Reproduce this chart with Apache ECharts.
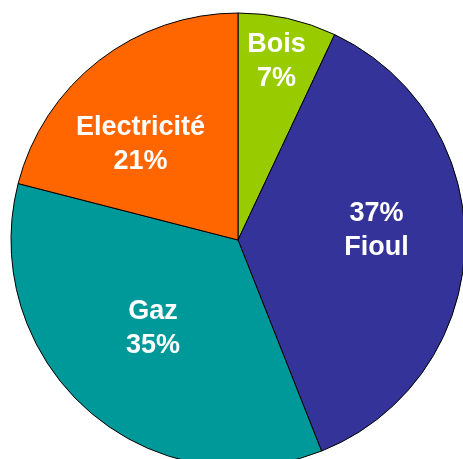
<!DOCTYPE html>
<html>
<head>
<meta charset="utf-8">
<script src="https://cdn.jsdelivr.net/npm/echarts@6/dist/echarts.min.js"></script>
<style>
  html, body { margin: 0; padding: 0; background: #ffffff; }
  #chart { width: 463px; height: 459px; }
</style>
</head>
<body>
<div id="chart"></div>
<script>
// clockwise from 12 o'clock
const names = ['Bois', 'Fioul', 'Gaz', 'Electricité'];
const shares = [7, 37, 35, 21];
const colors = ['#99cc00', '#333399', '#009999', '#ff6600'];
// label nudges from the default "inside" spot (px)
const labelShift = [[13, -65], [22, -13], [-8, 1], [-26, -3]];

const chart = echarts.init(document.getElementById('chart'));

const data = names.map((n, i) => ({
  name: n,
  value: shares[i],
  itemStyle: { color: colors[i] },
  label: {
    // Fioul puts the percent first
    formatter: n === 'Fioul' ? '{c}%\n{b}' : '{b}\n{c}%'
  }
}));

chart.setOption({
  animation: false,
  series: [
    {
      type: 'pie',
      center: [238, 240],
      radius: 227,
      startAngle: 90,
      clockwise: true,
      data: data,
      itemStyle: {
        borderColor: '#000000',
        borderWidth: 1
      },
      label: {
        show: true,
        position: 'inside',
        color: '#ffffff',
        fontFamily: 'Arial, "Liberation Sans", sans-serif',
        fontWeight: 'bold',
        fontSize: 27,
        lineHeight: 34,
        align: 'center'
      },
      labelLine: { show: false },
      labelLayout: params => ({
        dx: labelShift[params.dataIndex][0],
        dy: labelShift[params.dataIndex][1]
      }),
      emphasis: { disabled: true }
    }
  ]
});
</script>
</body>
</html>
